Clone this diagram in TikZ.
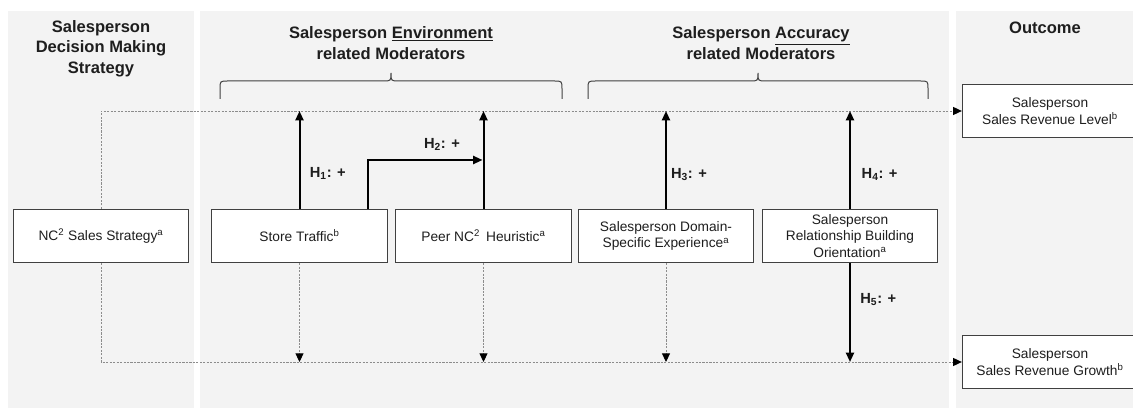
\documentclass[tikz,border=0pt]{standalone}
\usepackage{fontspec}
\setmainfont{Liberation Sans}
\usepackage{xcolor}
\usetikzlibrary{arrows.meta,positioning}
\definecolor{panelgray}{RGB}{243,243,243}
\definecolor{dotgray}{RGB}{140,140,140}
\definecolor{boxline}{RGB}{64,64,64}
\definecolor{txtgray}{RGB}{30,30,30}
\tikzset{box/.style={draw=boxline,fill=white,line width=0.75pt,minimum width=131.5pt,minimum height=40pt,inner sep=2pt,align=center,text=txtgray,font=\fontsize{10.3}{12.6}\selectfont}}
\tikzset{head/.style={align=center,text=txtgray,font=\bfseries\fontsize{12.4}{15.4}\selectfont}}
\tikzset{hlab/.style={inner sep=1pt,text=txtgray,font=\bfseries\fontsize{11}{13}\selectfont}}
\tikzset{hyp/.style={line width=1.5pt,-{Triangle[width=6pt,length=7pt]}}}
\tikzset{dotline/.style={dotgray,line width=0.7pt,dash pattern=on 1.6pt off 1pt}}
\tikzset{dotarrow/.style={dotline,-{Triangle[width=6pt,length=6.5pt,color=black]}}}
\tikzset{brc/.style={line width=0.75pt,boxline}}

\begin{document}
\begin{tikzpicture}[x=0.75pt,y=-0.75pt]
    \clip[use as bounding box] (0,0) rectangle (1133,409);
    % panels
    \fill[panelgray] (8,11) rectangle (194,408);
    \fill[panelgray] (200,11) rectangle (949,408);
    \fill[panelgray] (956,11) rectangle (1140,408);

    \node[head] (hstrat) at (101,48.5) {Salesperson\\Decision Making\\Strategy};
    \node[head] (henv) at (391,43) {Salesperson \underline{Environment}\\related Moderators};
    \node[head] (hacc) at (761,43) {Salesperson \underline{Accuracy}\\related Moderators};
    \node[head] (hout) at (1045,28) {Outcome};

    % braces
    \draw[brc] (220,99) -- (220,89) .. controls (220,81) .. (228,81) -- (383,81) .. controls (391,81) .. (391,73) .. controls (391,81) .. (399,81) -- (554,81) .. controls (562,81) .. (562,89) -- (562,99);
    \draw[brc] (588,99) -- (588,89) .. controls (588,81) .. (596,81) -- (750,81) .. controls (758,81) .. (758,73) .. controls (758,81) .. (766,81) -- (920,81) .. controls (928,81) .. (928,89) -- (928,99);

    \node[box] (strat) at (101,236) {NC\textsuperscript{2} Sales Strategy\textsuperscript{a}};
    \node[box] (traffic) at (299.5,236) {Store Traffic\textsuperscript{b}};
    \node[box] (peer) at (483.5,236) {Peer NC\textsuperscript{2}\, Heuristic\textsuperscript{a}};
    \node[box] (domain) at (666,236) {Salesperson Domain-\\Specific Experience\textsuperscript{a}};
    \node[box] (relation) at (850,236) {Salesperson\\Relationship Building\\Orientation\textsuperscript{a}};
    \node[box] (level) at (1050,111) {Salesperson\\Sales Revenue Level\textsuperscript{b}};
    \node[box] (growth) at (1050,362) {Salesperson\\Sales Revenue Growth\textsuperscript{b}};
    \coordinate (h2tip) at (peer.north |- 0,160);

    % dotted paths
    \draw[dotarrow] (strat) |- (level);
    \draw[dotarrow] (strat) |- (growth);
    \draw[dotarrow] (traffic) -- (traffic |- growth);
    \draw[dotarrow] (peer) -- (peer |- growth);
    \draw[dotarrow] (domain) -- (domain |- growth);

    % hypotheses
    \draw[hyp] (traffic) -- node[hlab,right=6pt,pos=0.36]{H\textsubscript{1}: +} (traffic |- level);
    \draw[hyp,shorten >=0.75pt] ([xshift=51.4pt]traffic.north) |- node[hlab,above=5pt,pos=0.82]{H\textsubscript{2}: +} (h2tip);
    \draw[hyp] (peer) -- (peer |- level);
    \draw[hyp] (domain) -- node[hlab,right=2pt,pos=0.35]{H\textsubscript{3}: +} (domain |- level);
    \draw[hyp] (relation) -- node[hlab,right=7pt,pos=0.35]{H\textsubscript{4}: +} (relation |- level);
    \draw[hyp] (relation) -- node[hlab,right=6pt,pos=0.37]{H\textsubscript{5}: +} (relation |- growth);
\end{tikzpicture}
\end{document}
